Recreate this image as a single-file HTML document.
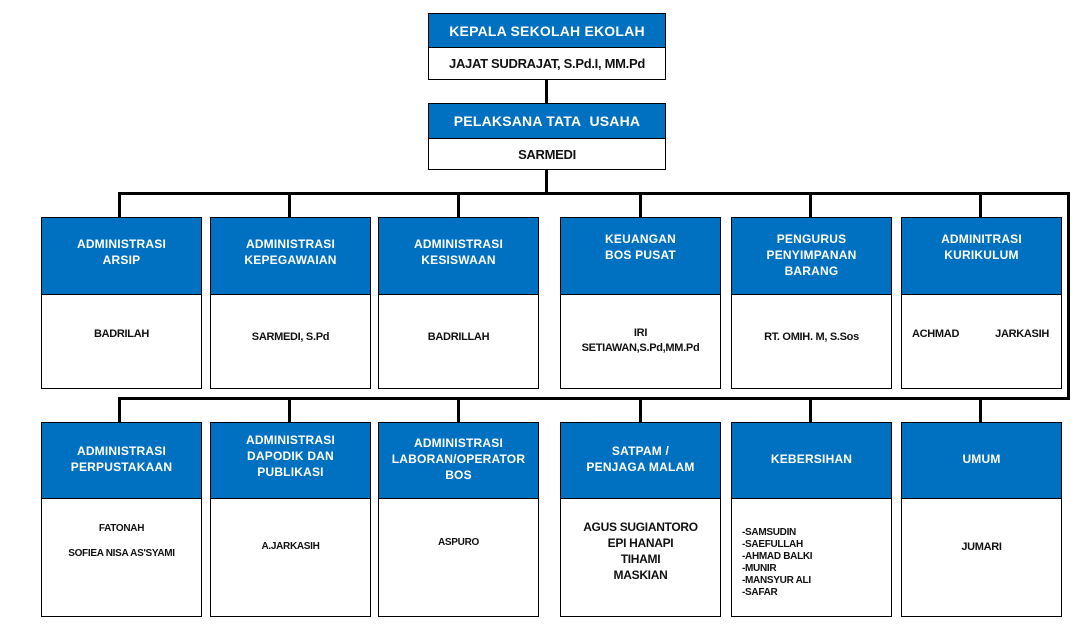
<!DOCTYPE html>
<html><head><meta charset="utf-8"><style>
body{margin:0;width:1088px;height:636px;background:#fff;position:relative;overflow:hidden;font-family:"Liberation Sans Narrow","Liberation Sans",sans-serif;font-weight:bold;}
.b{position:absolute;border:1px solid #000;box-sizing:border-box;background:#fff;}
.h{position:absolute;left:0;right:0;top:0;background:#0070c0;color:#fff;display:flex;align-items:center;justify-content:center;text-align:center;font-family:"Liberation Sans",sans-serif;font-size:12px;line-height:16px;border-bottom:1px solid #000;box-sizing:border-box;letter-spacing:0.2px}
.c{position:absolute;left:0;right:0;bottom:0;display:flex;align-items:center;justify-content:center;text-align:center;font-size:11px;line-height:15px;color:#111;letter-spacing:-0.3px}
.l{position:absolute;background:#000;}
</style></head><body>
<div class="l" style="left:545px;top:79px;width:3px;height:24px"></div>
<div class="l" style="left:545px;top:169px;width:3px;height:25px"></div>
<div class="l" style="left:118px;top:192px;width:952px;height:3px"></div>
<div class="l" style="left:1067px;top:192px;width:3px;height:208px"></div>
<div class="l" style="left:118px;top:397px;width:952px;height:3px"></div>
<div class="l" style="left:118px;top:192px;width:3px;height:25px"></div>
<div class="l" style="left:288px;top:192px;width:3px;height:25px"></div>
<div class="l" style="left:457px;top:192px;width:3px;height:25px"></div>
<div class="l" style="left:639px;top:192px;width:3px;height:25px"></div>
<div class="l" style="left:809px;top:192px;width:3px;height:25px"></div>
<div class="l" style="left:979px;top:192px;width:3px;height:25px"></div>
<div class="l" style="left:118px;top:397px;width:3px;height:25px"></div>
<div class="l" style="left:288px;top:397px;width:3px;height:25px"></div>
<div class="l" style="left:457px;top:397px;width:3px;height:25px"></div>
<div class="l" style="left:639px;top:397px;width:3px;height:25px"></div>
<div class="l" style="left:809px;top:397px;width:3px;height:25px"></div>
<div class="l" style="left:979px;top:397px;width:3px;height:25px"></div>

<div class="b" style="left:428px;top:13px;width:238px;height:67px"><div class="h" style="height:34px;font-size:14px">KEPALA SEKOLAH EKOLAH</div><div class="c" style="top:34px;font-size:13px">JAJAT SUDRAJAT, S.Pd.I, MM.Pd</div></div>
<div class="b" style="left:428px;top:103px;width:238px;height:67px"><div class="h" style="height:35px;font-size:14px">PELAKSANA TATA&nbsp; USAHA</div><div class="c" style="top:35px;font-size:13px">SARMEDI</div></div>

<div class="b" style="left:41px;top:217px;width:161px;height:172px"><div class="h" style="height:77px;padding-bottom:8px">ADMINISTRASI<br>ARSIP</div><div class="c" style="top:77px;padding-bottom:14px">BADRILAH</div></div>
<div class="b" style="left:210px;top:217px;width:161px;height:172px"><div class="h" style="height:77px;padding-bottom:8px">ADMINISTRASI<br>KEPEGAWAIAN</div><div class="c" style="top:77px;padding-bottom:8px">SARMEDI, S.Pd</div></div>
<div class="b" style="left:378px;top:217px;width:161px;height:172px"><div class="h" style="height:77px;padding-bottom:8px">ADMINISTRASI<br>KESISWAAN</div><div class="c" style="top:77px;padding-bottom:8px">BADRILLAH</div></div>
<div class="b" style="left:560px;top:217px;width:161px;height:172px"><div class="h" style="height:77px;padding-bottom:18px">KEUANGAN<br>BOS PUSAT</div><div class="c" style="top:77px;padding-bottom:2px">IRI<br>SETIAWAN,S.Pd,MM.Pd</div></div>
<div class="b" style="left:731px;top:217px;width:161px;height:172px"><div class="h" style="height:77px;padding-bottom:2px">PENGURUS<br>PENYIMPANAN<br>BARANG</div><div class="c" style="top:77px;padding-bottom:8px">RT. OMIH. M, S.Sos</div></div>
<div class="b" style="left:901px;top:217px;width:161px;height:172px"><div class="h" style="height:77px;padding-bottom:18px">ADMINITRASI<br>KURIKULUM</div><div class="c" style="top:77px;padding-bottom:14px;justify-content:space-between;padding-left:10px;padding-right:12px">ACHMAD <span>JARKASIH</span></div></div>

<div class="b" style="left:41px;top:422px;width:161px;height:195px"><div class="h" style="height:76px;padding-bottom:4px">ADMINISTRASI<br>PERPUSTAKAAN</div><div class="c" style="top:76px;padding-bottom:34px;font-size:10px;line-height:25px">FATONAH<br>SOFIEA NISA AS'SYAMI</div></div>
<div class="b" style="left:210px;top:422px;width:161px;height:195px"><div class="h" style="height:76px;padding-bottom:10px">ADMINISTRASI<br>DAPODIK DAN<br>PUBLIKASI</div><div class="c" style="top:76px;padding-bottom:22px;font-size:10px">A.JARKASIH</div></div>
<div class="b" style="left:378px;top:422px;width:161px;height:195px"><div class="h" style="height:76px;padding-bottom:4px">ADMINISTRASI<br>LABORAN/OPERATOR<br>BOS</div><div class="c" style="top:76px;padding-bottom:30px;font-size:10px">ASPURO</div></div>
<div class="b" style="left:560px;top:422px;width:161px;height:195px"><div class="h" style="height:76px;padding-bottom:4px">SATPAM /<br>PENJAGA MALAM</div><div class="c" style="top:76px;padding-bottom:14px;font-size:12px;line-height:16px">AGUS SUGIANTORO<br>EPI HANAPI<br>TIHAMI<br>MASKIAN</div></div>
<div class="b" style="left:731px;top:422px;width:161px;height:195px"><div class="h" style="height:76px;padding-bottom:4px">KEBERSIHAN</div><div class="c" style="top:76px;padding-top:10px;font-size:10px;line-height:12px;justify-content:flex-start;text-align:left;padding-left:10px">-SAMSUDIN<br>-SAEFULLAH<br>-AHMAD BALKI<br>-MUNIR<br>-MANSYUR ALI<br>-SAFAR</div></div>
<div class="b" style="left:901px;top:422px;width:161px;height:195px"><div class="h" style="height:76px;padding-bottom:4px">UMUM</div><div class="c" style="top:76px;padding-bottom:20px">JUMARI</div></div>
</body></html>
